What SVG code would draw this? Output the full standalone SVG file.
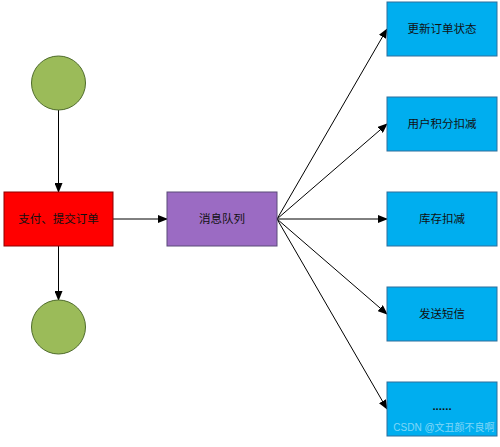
<svg xmlns="http://www.w3.org/2000/svg" width="500" height="447" viewBox="0 0 500 447">
<defs>
<marker id="ah" markerWidth="10" markerHeight="8" refX="9" refY="4" orient="auto" markerUnits="userSpaceOnUse">
<path d="M0,0 L10,4 L0,8 Z" fill="#000"/>
</marker>
<style>
.c{fill:#9BBB59;stroke:#4E6B2A;stroke-width:1}
.b{fill:#00AEEF;stroke:#2F6E9C;stroke-width:1}
.t{font-family:"Liberation Sans","Noto Sans CJK SC",sans-serif;font-size:11.5px;fill:#111;text-anchor:middle;dominant-baseline:central}
.l{stroke:#000;stroke-width:1;fill:none;marker-end:url(#ah)}
</style>
</defs>
<rect width="500" height="447" fill="#fff"/>
<g id="connectors">
<line class="l" x1="58.5" y1="110" x2="58.5" y2="192"/>
<line class="l" x1="58.5" y1="246" x2="58.5" y2="300"/>
<line class="l" x1="113" y1="219" x2="167" y2="219"/>
<line class="l" x1="277" y1="219" x2="387" y2="29"/>
<line class="l" x1="277" y1="219" x2="387" y2="124"/>
<line class="l" x1="277" y1="219" x2="387" y2="219"/>
<line class="l" x1="277" y1="219" x2="387" y2="314"/>
<line class="l" x1="277" y1="219" x2="387" y2="409"/>
</g>
<g id="start"><circle class="c" cx="58.5" cy="83" r="27"/></g>
<g id="order"><rect x="4" y="192" width="109" height="54" fill="#FF0000" stroke="#8B0000"/><text class="t" x="58.5" y="219">支付、提交订单</text></g>
<g id="end"><circle class="c" cx="58.5" cy="327" r="27"/></g>
<g id="mq"><rect x="167" y="192" width="110" height="54" fill="#9B6BC3" stroke="#5A4A78"/><text class="t" x="222" y="219">消息队列</text></g>
<g id="b1"><rect class="b" x="387" y="2" width="110" height="54"/><text class="t" x="442" y="29">更新订单状态</text></g>
<g id="b2"><rect class="b" x="387" y="97" width="110" height="54"/><text class="t" x="442" y="124">用户积分扣减</text></g>
<g id="b3"><rect class="b" x="387" y="192" width="110" height="54"/><text class="t" x="442" y="219">库存扣减</text></g>
<g id="b4"><rect class="b" x="387" y="287" width="110" height="54"/><text class="t" x="442" y="314">发送短信</text></g>
<g id="b5"><rect class="b" x="387" y="382" width="110" height="54"/><text class="t" x="442" y="406" font-weight="bold">......</text></g>
<text x="444" y="431" font-family="Liberation Sans,Noto Sans CJK SC,sans-serif" font-size="10" fill="#fff" fill-opacity="0.5" text-anchor="middle">CSDN @文丑颜不良啊</text>
</svg>
